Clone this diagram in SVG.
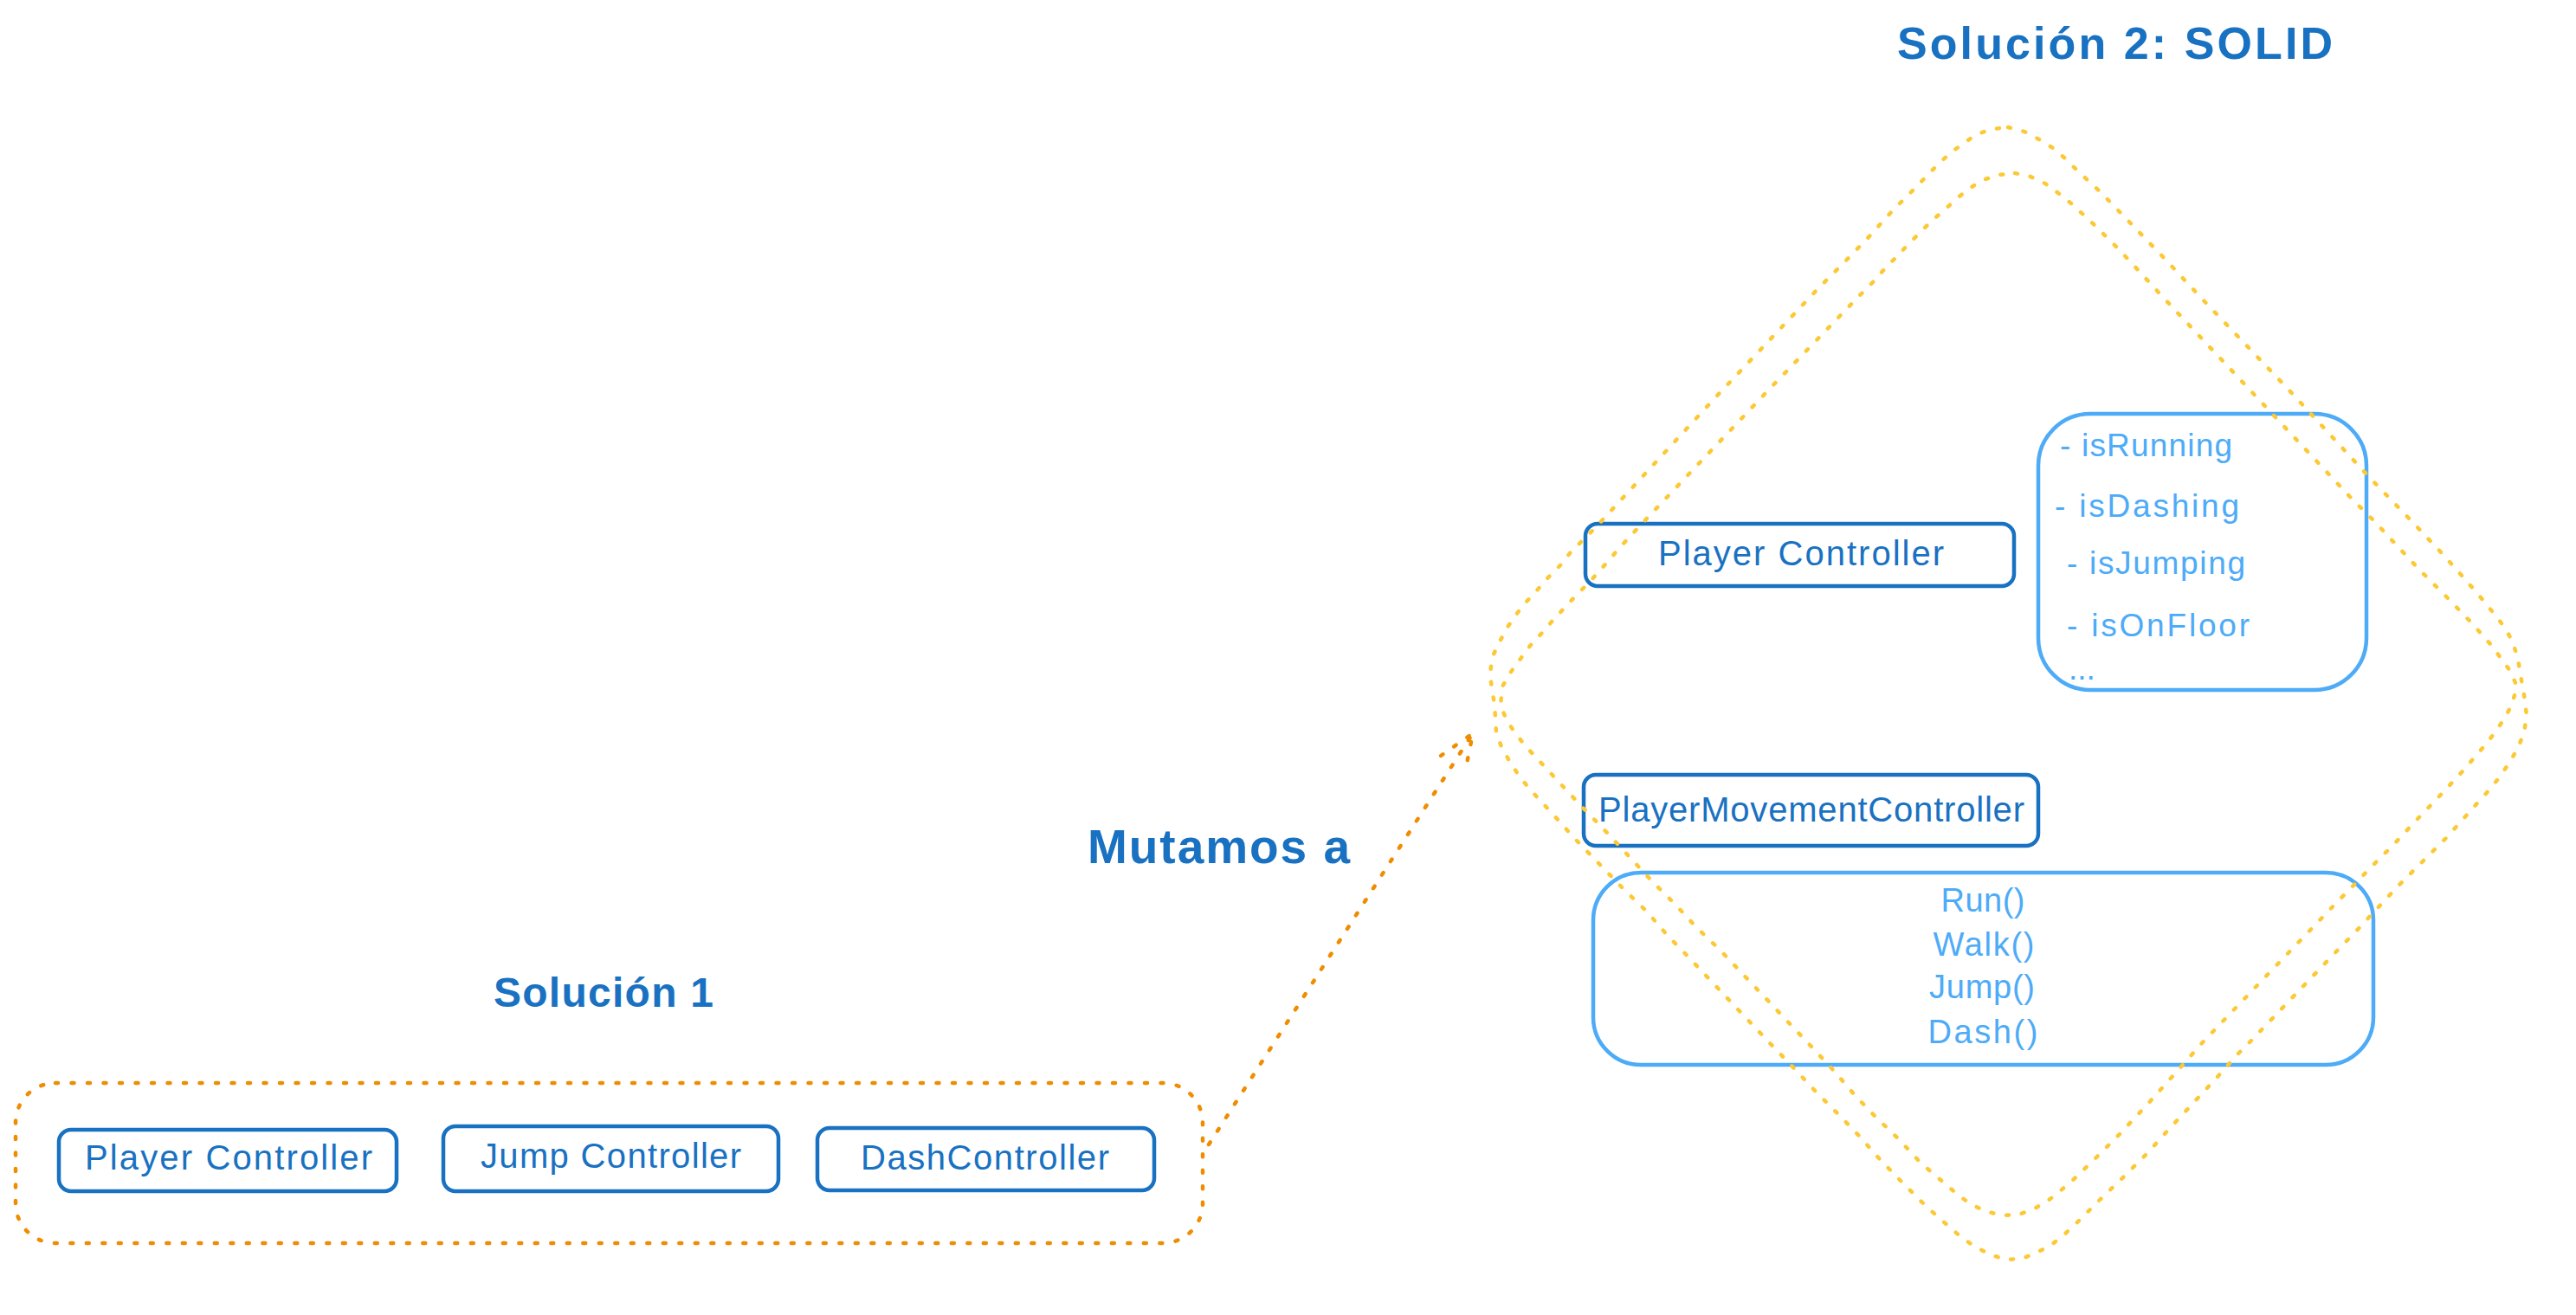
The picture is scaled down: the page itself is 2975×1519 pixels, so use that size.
<svg xmlns="http://www.w3.org/2000/svg" width="2975" height="1519" viewBox="0 0 2975 1519">
  <defs>
    <style>
      .bg { fill: #ffffff; }
      .box-dark { fill: none; stroke: #1971c2; stroke-width: 4.5; stroke-linejoin: round; }
      .box-light { fill: none; stroke: #4dabf7; stroke-width: 4.5; stroke-linejoin: round; }
      .dots-orange { fill: none; stroke: #f08c00; stroke-width: 4.5; stroke-linecap: round; stroke-linejoin: round; stroke-dasharray: 3 15.5; }
      .dots-yellow { fill: none; stroke: #fcc934; stroke-width: 4.5; stroke-linecap: round; stroke-linejoin: round; stroke-dasharray: 3 15; }
      .t { font-family: "Liberation Sans", Arial, sans-serif; }
      .title { font-size: 52px; font-weight: bold; fill: #1971c2; }
      .lbl { font-size: 40px; fill: #1971c2; }
      .attr { font-size: 37px; fill: #4dabf7; }
      .meth { font-size: 38px; fill: #4dabf7; text-anchor: middle; }
    </style>
  </defs>

  <rect class="bg" x="0" y="0" width="2975" height="1519"/>

  <!-- Titles -->
  <g id="title-solucion-2">
    <text class="t title" x="2191" y="68" textLength="503">Solución 2: SOLID</text>
  </g>
  <g id="title-solucion-1">
    <text class="t title" x="570" y="1163" style="font-size:48px" textLength="254">Solución 1</text>
  </g>
  <g id="label-mutamos">
    <text class="t title" x="1256" y="997" style="font-size:55px" textLength="303">Mutamos a</text>
  </g>

  <!-- Solution 1: monolithic controllers inside a dotted frame -->
  <g id="frame-solucion-1">
    <rect class="dots-orange" x="18" y="1251" width="1371" height="185" rx="46" ry="46"/>
  </g>
  <g id="node-player-controller-1">
    <rect class="box-dark" x="68" y="1305" width="390" height="71" rx="14" ry="14"/>
    <text class="t lbl" x="98" y="1351" textLength="332">Player Controller</text>
  </g>
  <g id="node-jump-controller">
    <rect class="box-dark" x="512" y="1301" width="387" height="75" rx="14" ry="14"/>
    <text class="t lbl" x="555" y="1349" textLength="301">Jump Controller</text>
  </g>
  <g id="node-dash-controller">
    <rect class="box-dark" x="944" y="1303" width="389" height="72" rx="14" ry="14"/>
    <text class="t lbl" x="994" y="1351" textLength="287">DashController</text>
  </g>

  <!-- Solution 2: SOLID split -->
  <g id="node-player-controller-2">
    <rect class="box-dark" x="1831" y="605" width="495" height="72" rx="14" ry="14"/>
    <text class="t lbl" x="1915" y="653" textLength="330">Player Controller</text>
  </g>
  <g id="node-player-state">
    <rect class="box-light" x="2354" y="478" width="379" height="319" rx="60" ry="60"/>
    <text class="t attr" x="2379" y="527" textLength="199">- isRunning</text>
    <text class="t attr" x="2373" y="597" textLength="213">- isDashing</text>
    <text class="t attr" x="2387" y="663" textLength="206">- isJumping</text>
    <text class="t attr" x="2387" y="735" textLength="211">- isOnFloor</text>
    <text class="t attr" x="2389" y="785">...</text>
  </g>
  <g id="node-player-movement-controller">
    <rect class="box-dark" x="1829" y="895" width="525" height="82" rx="14" ry="14"/>
    <text class="t lbl" x="1846" y="949" textLength="492">PlayerMovementController</text>
  </g>
  <g id="node-movement-methods">
    <rect class="box-light" x="1840" y="1008" width="901" height="222" rx="55" ry="55"/>
    <text class="t meth" x="2290" y="1053" textLength="97">Run()</text>
    <text class="t meth" x="2291" y="1104" textLength="117">Walk()</text>
    <text class="t meth" x="2289" y="1153" textLength="122">Jump()</text>
    <text class="t meth" x="2290" y="1205" textLength="127">Dash()</text>
  </g>

  <!-- SOLID diamond: two sketchy dotted outlines -->
  <g id="diamond-solid">
    <path class="dots-yellow" d="M2319,147 L2338,152 L2355,161 L2371,171 L2385,183 L2399,197 L2427,223 L2453,250 L2477,275 L2503,302 L2529,330 L2542,344 L2643,450 L2737,552 L2763,579 L2789,606 L2820,639 L2845,667 L2870,696 L2893,725 L2902,742 L2908,761 L2911,780 L2916,809 L2918,827 L2915,846 L2908,864 L2898,881 L2888,896 L2876,911 L2851,939 L2825,968 L2797,996 L2769,1024 L2743,1052 L2717,1080 L2705,1092 L2599,1203 L2585,1217 L2559,1246 L2534,1273 L2507,1302 L2480,1332 L2452,1360 L2424,1387 L2398,1413 L2383,1427 L2369,1438 L2352,1447 L2335,1454 L2316,1455 L2298,1449 L2281,1440 L2266,1430 L2251,1417 L2224,1393 L2196,1365 L2169,1337 L2147,1312 L2123,1287 L2098,1262 L2071,1233 L2044,1205 L1940,1095 L1927,1082 L1902,1053 L1875,1027 L1847,998 L1818,968 L1793,940 L1767,912 L1755,897 L1745,882 L1735,865 L1728,847 L1727,829 L1726,813 L1723,797 L1721,779 L1723,760 L1731,743 L1740,726 L1750,711 L1762,696 L1775,682 L1788,667 L1802,653 L1813,639 L1827,625 L1842,610 L1985,455 L2100,333 L2115,318 L2129,304 L2157,275 L2185,244 L2212,217 L2238,190 L2252,177 L2267,166 L2283,155 L2301,149 Z"/>
    <path class="dots-yellow" d="M2327,200 L2345,204 L2362,212 L2377,223 L2392,235 L2406,248 L2420,261 L2447,288 L2473,316 L2494,339 L2598,450 L2700,559 L2715,575 L2742,602 L2768,630 L2795,659 L2825,689 L2852,717 L2877,745 L2888,760 L2899,775 L2906,791 L2905,800 L2900,816 L2891,832 L2880,848 L2868,863 L2843,892 L2817,920 L2791,947 L2765,975 L2738,1002 L2712,1029 L2700,1041 L2541,1207 L2528,1222 L2503,1250 L2476,1280 L2448,1310 L2421,1337 L2394,1363 L2379,1376 L2365,1387 L2348,1397 L2331,1403 L2312,1404 L2293,1399 L2276,1391 L2261,1380 L2247,1368 L2218,1343 L2192,1315 L2164,1288 L2143,1266 L2118,1237 L2092,1209 L1987,1098 L1960,1072 L1935,1045 L1908,1018 L1882,990 L1857,963 L1827,932 L1800,903 L1775,876 L1762,862 L1750,847 L1740,832 L1733,815 L1735,793 L1745,776 L1756,761 L1767,746 L1780,732 L1793,717 L1806,703 L1819,689 L1833,675 L1846,661 L1859,646 L1872,631 L1885,617 L1898,603 L2041,452 L2147,342 L2162,327 L2177,310 L2190,297 L2204,282 L2217,269 L2231,255 L2245,243 L2259,230 L2274,218 L2290,208 L2308,202 Z"/>
  </g>

  <!-- Connectors -->
  <g id="connectors">
    <g id="edge-solucion1-to-solid">
      <path class="dots-orange" d="M1396,1322 L1701,847"/>
      <path class="dots-orange" d="M1664,873 L1701,847 L1692,892"/>
    </g>
  </g>
</svg>
